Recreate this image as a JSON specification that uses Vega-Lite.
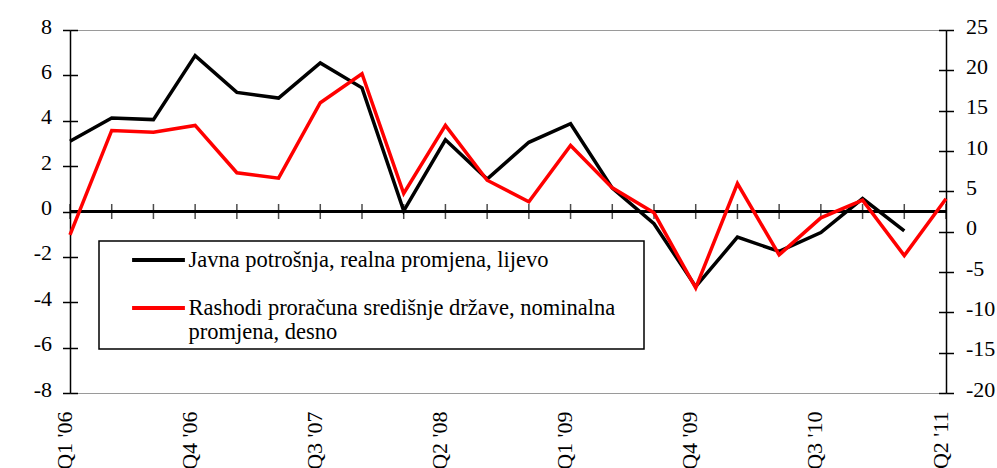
{
  "$schema": "https://vega.github.io/schema/vega-lite/v6.json",
  "autosize": {"type": "none"},
  "width": 876,
  "height": 363,
  "padding": {"left": 70, "top": 30, "right": 51, "bottom": 75},
  "background": "white",
  "data": {
    "values": [
      {"q": "Q1 '06", "javna": 3.1, "rashodi": -0.4},
      {"q": "Q2 '06", "javna": 4.12, "rashodi": 12.55},
      {"q": "Q3 '06", "javna": 4.05, "rashodi": 12.34},
      {"q": "Q4 '06", "javna": 6.87, "rashodi": 13.17},
      {"q": "Q1 '07", "javna": 5.25, "rashodi": 7.3},
      {"q": "Q2 '07", "javna": 5.0, "rashodi": 6.63},
      {"q": "Q3 '07", "javna": 6.55, "rashodi": 15.98},
      {"q": "Q4 '07", "javna": 5.45, "rashodi": 19.58},
      {"q": "Q1 '08", "javna": 0.03, "rashodi": 4.73},
      {"q": "Q2 '08", "javna": 3.16, "rashodi": 13.17},
      {"q": "Q3 '08", "javna": 1.43, "rashodi": 6.38},
      {"q": "Q4 '08", "javna": 3.05, "rashodi": 3.7},
      {"q": "Q1 '09", "javna": 3.87, "rashodi": 10.68},
      {"q": "Q2 '09", "javna": 1.03, "rashodi": 5.43},
      {"q": "Q3 '09", "javna": -0.54, "rashodi": 2.33},
      {"q": "Q4 '09", "javna": -3.31, "rashodi": -6.98},
      {"q": "Q1 '10", "javna": -1.13, "rashodi": 5.97},
      {"q": "Q2 '10", "javna": -1.76, "rashodi": -2.88},
      {"q": "Q3 '10", "javna": -0.93, "rashodi": 1.71},
      {"q": "Q4 '10", "javna": 0.57, "rashodi": 3.9},
      {"q": "Q1 '11", "javna": -0.85, "rashodi": -2.97},
      {"q": "Q2 '11", "javna": null, "rashodi": 4.07}
    ]
  },
  "layer": [
    {
      "layer": [
        {
          "mark": {"type": "rule", "color": "black", "strokeWidth": 1.5},
          "encoding": {
            "y": {
              "datum": 0, "type": "quantitative",
              "scale": {"domain": [-8, 8], "nice": false, "zero": false},
              "axis": {"orient": "left", "title": null, "values": [-8, -6, -4, -2, 0, 2, 4, 6, 8], "domain": false, "labels": false, "tickSize": -7.5, "grid": false}
            }
          }
        },
        {
          "mark": {"type": "tick", "orient": "vertical", "size": 15, "thickness": 1.5, "color": "black"},
          "encoding": {
            "x": {
              "field": "q", "type": "ordinal", "sort": null,
              "scale": {"type": "point", "padding": 0},
              "axis": {"values": ["Q1 '06", "Q4 '06", "Q3 '07", "Q2 '08", "Q1 '09", "Q4 '09", "Q3 '10", "Q2 '11"], "labelAngle": -90, "domain": false, "ticks": false, "tickSize": 0, "labelPadding": 18, "labelOffset": -6, "title": null, "grid": false}
            },
            "y": {"datum": 0, "type": "quantitative"}
          }
        }
      ]
    },
    {
      "mark": {"type": "line", "color": "black", "strokeWidth": 3.5, "strokeJoin": "miter"},
      "encoding": {
        "x": {
          "field": "q", "type": "ordinal", "sort": null,
          "scale": {"type": "point", "padding": 0},
          "axis": {"values": ["Q1 '06", "Q4 '06", "Q3 '07", "Q2 '08", "Q1 '09", "Q4 '09", "Q3 '10", "Q2 '11"], "labelAngle": -90, "domain": false, "ticks": false, "tickSize": 0, "labelPadding": 18, "labelOffset": -6, "title": null, "grid": false}
        },
        "y": {
          "field": "javna", "type": "quantitative",
          "scale": {"domain": [-8, 8], "nice": false, "zero": false},
          "axis": {"orient": "left", "title": null, "values": [-8, -6, -4, -2, 0, 2, 4, 6, 8], "tickSize": 7.5, "labelPadding": 11, "labelOffset": -4, "grid": false, "labelExpr": "'' + datum.value"}
        },
        "color": {
          "datum": "Javna potrošnja, realna promjena, lijevo", "type": "nominal",
          "scale": {"domain": ["Javna potrošnja, realna promjena, lijevo", "Rashodi proračuna središnje države, nominalna promjena, desno"], "range": ["#000000", "#ff0000"]},
          "legend": {
            "orient": "none", "legendX": 29, "legendY": 211, "title": null,
            "symbolType": "M-2.4,0H2.4", "symbolSize": 484, "symbolStrokeWidth": 4,
            "labelLimit": 800, "labelOffset": 17, "symbolOffset": 40.5, "padding": 6, "rowPadding": 23,
            "strokeColor": "black", "fillColor": "white",
            "labelExpr": "datum.label == 'Rashodi proračuna središnje države, nominalna promjena, desno' ? ['Rashodi proračuna središnje države, nominalna    \u200b', 'promjena, desno'] : datum.label"
          }
        }
      }
    },
    {
      "mark": {"type": "line", "color": "#ff0000", "strokeWidth": 3.5, "strokeJoin": "miter"},
      "encoding": {
        "x": {
          "field": "q", "type": "ordinal", "sort": null,
          "scale": {"type": "point", "padding": 0},
          "axis": {"values": ["Q1 '06", "Q4 '06", "Q3 '07", "Q2 '08", "Q1 '09", "Q4 '09", "Q3 '10", "Q2 '11"], "labelAngle": -90, "domain": false, "ticks": false, "tickSize": 0, "labelPadding": 18, "labelOffset": -6, "title": null, "grid": false}
        },
        "y": {
          "field": "rashodi", "type": "quantitative",
          "scale": {"domain": [-20, 25], "nice": false, "zero": false},
          "axis": {"orient": "right", "title": null, "values": [-20, -15, -10, -5, 0, 5, 10, 15, 20, 25], "tickSize": 7.5, "labelPadding": 12, "labelOffset": -4, "grid": false, "labelExpr": "'' + datum.value"}
        },
        "color": {"datum": "Rashodi proračuna središnje države, nominalna promjena, desno", "type": "nominal"}
      }
    },
    {
      "mark": {"type": "rule", "strokeOpacity": 0},
      "encoding": {
        "y": {
          "datum": 0, "type": "quantitative",
          "scale": {"domain": [-20, 25], "nice": false, "zero": false},
          "axis": {"orient": "right", "title": null, "values": [-20, -15, -10, -5, 0, 5, 10, 15, 20, 25], "domain": false, "labels": false, "tickSize": -7.5, "grid": false}
        }
      }
    }
  ],
  "resolve": {"scale": {"y": "independent"}, "axis": {"y": "independent"}},
  "config": {
    "view": {"stroke": "#9a9a9a", "strokeWidth": 1},
    "font": "Liberation Serif",
    "style": {"guide-label": {"lineHeight": 23.5}},
    "axis": {"labelFont": "Liberation Serif", "labelFontSize": 22, "labelColor": "black", "domainColor": "black", "domainWidth": 1.5, "tickColor": "black", "tickWidth": 1.5},
    "legend": {"labelFont": "Liberation Serif", "labelFontSize": 22.5, "labelColor": "black", "strokeWidth": 1.5}
  }
}
